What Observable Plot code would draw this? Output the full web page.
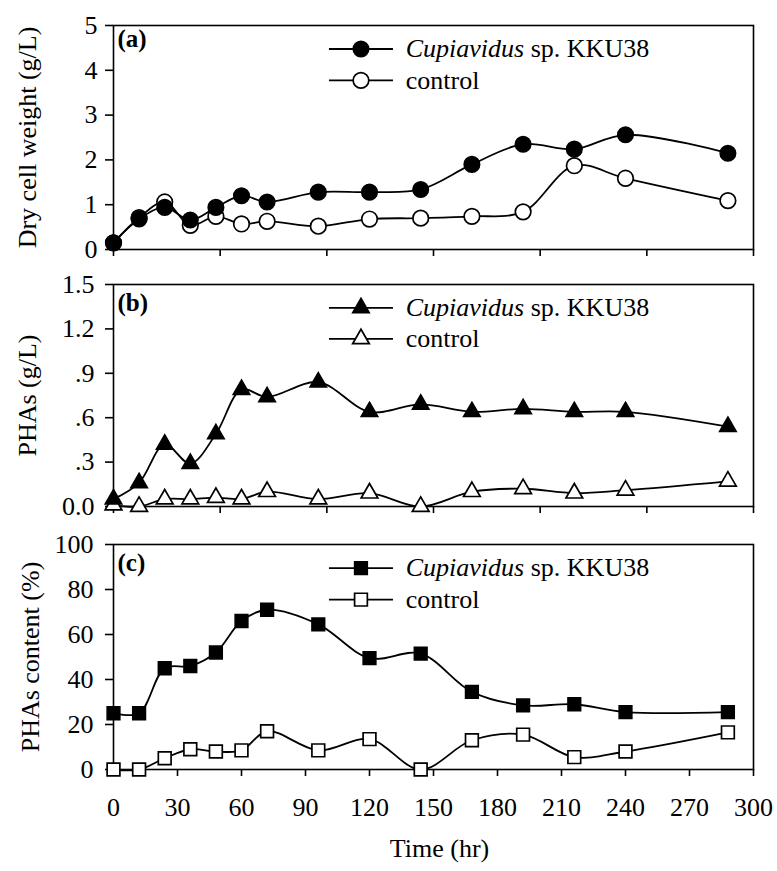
<!DOCTYPE html>
<html>
<head>
<meta charset="utf-8">
<script src="https://cdn.jsdelivr.net/npm/d3@7"></script>
<script src="https://cdn.jsdelivr.net/npm/@observablehq/plot@0.6"></script>
<style>
  body { margin: 0; background: #fff; }
  #chart { width: 777px; }
  #chart svg { display: block; }
</style>
</head>
<body>
<div id="chart"></div>
<script>
// ---- data ----
const time = [0, 12, 24, 36, 48, 60, 72, 96, 120, 144, 168, 192, 216, 240, 288];
const seriesNames = ["Cupiavidus sp. KKU38", "control"];

const dcwCup  = [0.15, 0.68, 0.94, 0.66, 0.94, 1.20, 1.06, 1.28, 1.28, 1.34, 1.90, 2.35, 2.24, 2.56, 2.15];
const dcwCtrl = [0.15, 0.71, 1.06, 0.54, 0.74, 0.57, 0.63, 0.52, 0.68, 0.70, 0.74, 0.84, 1.87, 1.59, 1.09];

const phaCup  = [0.05, 0.16, 0.42, 0.29, 0.49, 0.79, 0.74, 0.84, 0.64, 0.69, 0.64, 0.66, 0.64, 0.64, 0.54];
const phaCtrl = [0.01, 0.00, 0.05, 0.05, 0.06, 0.05, 0.10, 0.05, 0.09, 0.00, 0.10, 0.12, 0.09, 0.11, 0.17];

const contCup  = [25, 25, 45, 46, 52, 66, 71, 64.5, 49.5, 51.5, 34.5, 28.5, 29, 25.5, 25.5];
const contCtrl = [0, 0, 5, 9, 8, 8.5, 17, 8.5, 13.5, 0, 13, 15.5, 5.5, 8, 16.5];

const xTicksAB = [0, 50, 100, 150, 200, 250, 300];
const xTicksC  = [0, 30, 60, 90, 120, 150, 180, 210, 240, 270, 300];
const yTicksA = [0, 1, 2, 3, 4, 5];
const yTicksB = [0, 0.3, 0.6, 0.9, 1.2, 1.5];
const yTickLabelsB = ["0.0", ".3", ".6", ".9", "1.2", "1.5"];
const yTicksC = [0, 20, 40, 60, 80, 100];
const panelLabels = ["(a)", "(b)", "(c)"];
const yTitles = ["Dry cell weight (g/L)", "PHAs (g/L)", "PHAs content (%)"];
const xTitle = "Time (hr)";

// ---- layout (legend placement in time units / domain fractions) ----
const legLine = [101, 131], legMarkX = 116, legTextX = 137;
const legRows = [0.895, 0.755];
const FONT = "'Liberation Serif', 'Times New Roman', Times, serif";

function panel(o) {
  const rows = arr => time.map((t, i) => ({t, v: arr[i]}));
  const dCup = rows(o.cup), dCtrl = rows(o.ctrl);
  const leg = seriesNames.map((name, i) => ({name, y: o.yMax * legRows[i], x1: legLine[0], x2: legLine[1], xm: legMarkX, xt: legTextX}));
  const marks = [
    Plot.frame({stroke: "black", strokeWidth: 1.6}),
    Plot.axisY({ticks: o.yTicks, tickSize: 8, tickPadding: o.tickPadY, tickFormat: o.yFmt, label: null, strokeWidth: 1.6}),
    Plot.axisX({ticks: o.xTicks, tickSize: 7, tickPadding: 21.5, tickFormat: o.bottom ? (d => String(d)) : (() => ""), label: null, strokeWidth: 1.6}),
    Plot.line(dCtrl, {x: "t", y: "v", curve: "catmull-rom", stroke: "black", strokeWidth: 1.8}),
    Plot.line(dCup, {x: "t", y: "v", curve: "catmull-rom", stroke: "black", strokeWidth: 1.8}),
    Plot.dot(dCtrl, {x: "t", y: "v", symbol: o.symbol, r: o.r, fill: "white", stroke: "black", strokeWidth: 1.7}),
    Plot.dot(dCup, {x: "t", y: "v", symbol: o.symbol, r: o.r, fill: "black", stroke: "black", strokeWidth: 1.5}),
    Plot.link(leg, {x1: "x1", x2: "x2", y1: "y", y2: "y", stroke: "black", strokeWidth: 1.8}),
    Plot.dot([leg[0]], {x: "xm", y: "y", symbol: o.symbol, r: o.r, fill: "black", stroke: "black", strokeWidth: 1.5}),
    Plot.dot([leg[1]], {x: "xm", y: "y", symbol: o.symbol, r: o.r, fill: "white", stroke: "black", strokeWidth: 1.7}),
    Plot.text(leg, {x: "xt", y: "y", text: "name", textAnchor: "start", fontSize: 26, className: "legend-text"}),
    Plot.text([o.label], {frameAnchor: "top-left", dx: 4, dy: o.labelDy, lineAnchor: "top", fontWeight: "bold", fontSize: 25}),
    Plot.text([o.yTitle], {frameAnchor: "left", textAnchor: "middle", lineAnchor: "middle", rotate: -90, dx: o.titleDx, fontSize: 26})
  ];
  if (o.bottom) marks.push(Plot.text([xTitle], {frameAnchor: "bottom", textAnchor: "middle", dy: 87, dx: 6, fontSize: 26}));
  return Plot.plot({
    width: 777, height: o.height,
    marginLeft: 113, marginRight: 24, marginTop: o.marginTop, marginBottom: o.marginBottom,
    x: {domain: [0, 300]},
    y: {domain: [0, o.yMax]},
    style: {fontFamily: FONT, fontSize: "26px", color: "black", background: "white", overflow: "visible"},
    marks
  });
}

const chart = document.getElementById("chart");
const panels = [
  panel({cup: dcwCup, ctrl: dcwCtrl, symbol: "circle", r: 7.8, yMax: 5, yTicks: yTicksA, yFmt: d => String(d),
         xTicks: xTicksAB, tickPadY: 8, label: panelLabels[0], labelDy: 4, yTitle: yTitles[0], titleDx: -86,
         height: 259, marginTop: 25, marginBottom: 10, bottom: false}),
  panel({cup: phaCup, ctrl: phaCtrl, symbol: "triangle", r: 6.2, yMax: 1.5, yTicks: yTicksB,
         yFmt: d => yTickLabelsB[yTicksB.findIndex(v => Math.abs(v - d) < 1e-9)],
         xTicks: xTicksAB, tickPadY: 11, label: panelLabels[1], labelDy: 9, yTitle: yTitles[1], titleDx: -86,
         height: 257, marginTop: 25, marginBottom: 10, bottom: false}),
  panel({cup: contCup, ctrl: contCtrl, symbol: "square", r: 7.2, yMax: 100, yTicks: yTicksC, yFmt: d => String(d),
         xTicks: xTicksC, tickPadY: 12, label: panelLabels[2], labelDy: 9, yTitle: yTitles[2], titleDx: -83,
         height: 355, marginTop: 28, marginBottom: 102, bottom: true})
];
panels.forEach(p => chart.appendChild(p));

// italicize the genus name in the legends
d3.select(chart).selectAll("g.legend-text text").each(function() {
  const t = d3.select(this);
  const s = t.text();
  if (s.startsWith("Cupiavidus")) {
    t.text("");
    t.append("tspan").attr("font-style", "italic").text("Cupiavidus");
    t.append("tspan").text(s.slice("Cupiavidus".length));
  }
});
</script>
</body>
</html>
